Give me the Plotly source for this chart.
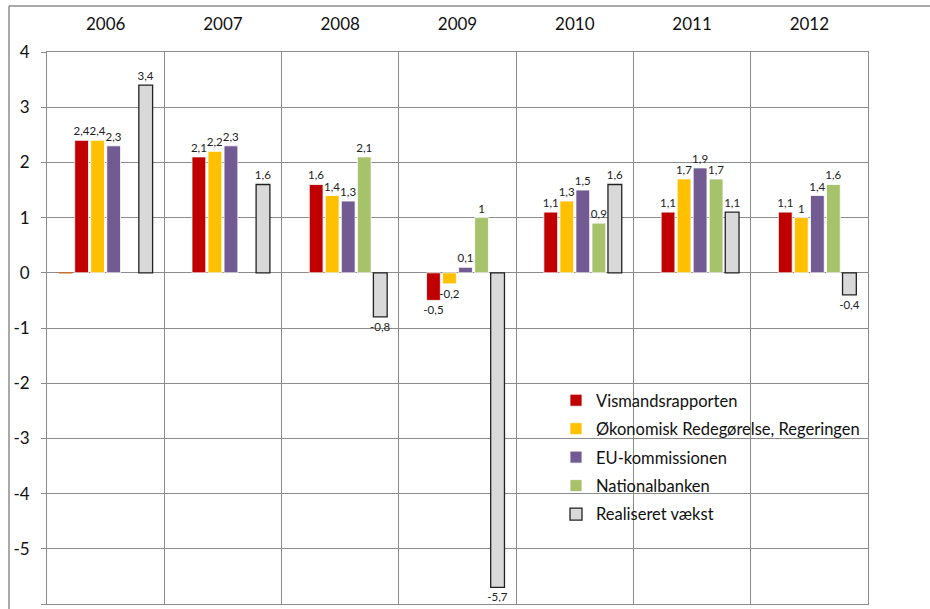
import plotly.graph_objects as go

years = ["2006", "2007", "2008", "2009", "2010", "2011", "2012"]
hidden = [0, None, None, None, None, None, None]
vismand = [2.4, 2.1, 1.6, -0.5, 1.1, 1.1, 1.1]
oekonomisk = [2.4, 2.2, 1.4, -0.2, 1.3, 1.7, 1.0]
eu = [2.3, 2.3, 1.3, 0.1, 1.5, 1.9, 1.4]
nationalbanken = [None, None, 2.1, 1.0, 0.9, 1.7, 1.6]
realiseret = [3.4, 1.6, -0.8, -5.7, 1.6, 1.1, -0.4]
y_ticks = [4, 3, 2, 1, 0, -1, -2, -3, -4, -5, -6]

FONT = "Lato, Calibri, 'Open Sans', sans-serif"


def labels(vals):
    return ["" if v is None else f"{v:g}".replace(".", ",") for v in vals]


series = [
    ("Vismandsrapporten", vismand, "#C00000", "rgba(255,255,255,0.8)"),
    ("Økonomisk Redegørelse, Regeringen", oekonomisk, "#FFC000", "rgba(255,255,255,0.8)"),
    ("EU-kommissionen", eu, "#725A92", "rgba(255,255,255,0.8)"),
    ("Nationalbanken", nationalbanken, "#A6C36C", "rgba(255,255,255,0.8)"),
    ("Realiseret vækst", realiseret, "#D9D9D9", "#222222"),
]

fig = go.Figure()
fig.add_trace(go.Bar(
    x=years, y=hidden, name="", showlegend=False,
    marker=dict(color="#C8702A", line=dict(color="#C8702A", width=1.5)),
    hoverinfo="skip",
))
for i, (name, vals, col, lcol) in enumerate(series):
    fig.add_trace(go.Bar(
        x=years, y=vals, name=name, legendgroup=f"g{i}",
        marker=dict(color=col, line=dict(color=lcol, width=1.3 if name == "Realiseret vækst" else 1)),
        text=labels(vals), textposition="outside", constraintext="none",
        textfont=dict(family=FONT, size=11.5, color="#222222"),
        cliponaxis=False,
    ))

L, R, T, B = 47, 62, 52, 5
W, H = 930, 609
pw = W - L - R
ph = H - T - B


def px_x(x):
    return (x - L) / pw


def px_y(y):
    return (H - B - y) / ph


fig.update_layout(
    width=W, height=H,
    margin=dict(l=L, r=R, t=T, b=B, autoexpand=False),
    paper_bgcolor="white", plot_bgcolor="white",
    barmode="group", bargap=0.18, bargroupgap=0.14,
    font=dict(family=FONT, size=15, color="#111111"),
    showlegend=True,
    legend=dict(
        x=px_x(556), y=px_y(383), xanchor="left", yanchor="top",
        bgcolor="rgba(0,0,0,0)", font=dict(family=FONT, size=16.5, color="#111111"),
        tracegroupgap=4, traceorder="grouped", itemwidth=30,
    ),
    xaxis=dict(
        type="category", side="top", tickson="boundaries", automargin=False,
        showgrid=True, gridcolor="#8C8C8C", gridwidth=1,
        ticks="", ticklabelstandoff=14,
        tickfont=dict(family=FONT, size=17, color="#111111"),
        showline=True, linecolor="#8C8C8C", mirror=True,
    ),
    yaxis=dict(
        range=[-6, 4], tickvals=y_ticks, ticktext=[str(v) for v in y_ticks],
        automargin=False,
        showgrid=True, gridcolor="#8C8C8C", gridwidth=1,
        zeroline=True, zerolinecolor="#8C8C8C", zerolinewidth=1,
        ticks="outside", ticklen=5, tickcolor="#8C8C8C",
        ticklabelstandoff=8,
        tickfont=dict(family=FONT, size=17, color="#111111"),
        showline=True, linecolor="#8C8C8C", mirror=True,
    ),
    shapes=[
        dict(type="line", xref="paper", yref="paper",
             x0=px_x(9), x1=px_x(935), y0=px_y(6), y1=px_y(6),
             line=dict(color="#8C8C8C", width=1.5)),
        dict(type="line", xref="paper", yref="paper",
             x0=px_x(9), x1=px_x(9), y0=px_y(6), y1=px_y(612),
             line=dict(color="#8C8C8C", width=1.5)),
    ],
)

fig.write_html(
    "out.html",
    config={"displayModeBar": False},
    post_script="document.body.style.margin='0';document.body.style.overflow='hidden';",
)
